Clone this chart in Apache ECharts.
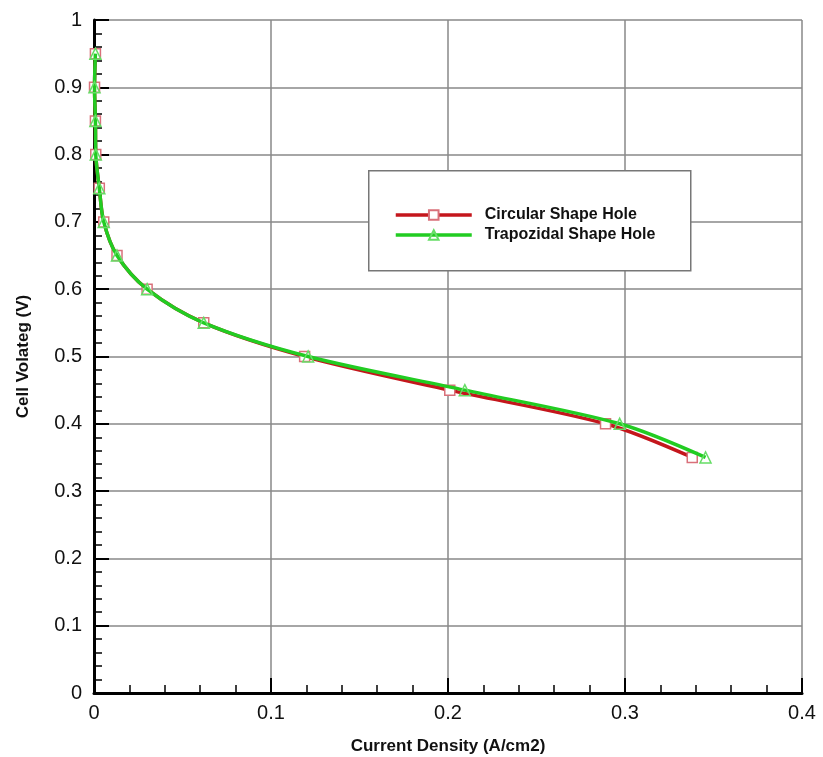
<!DOCTYPE html>
<html>
<head>
<meta charset="utf-8">
<script src="https://cdn.jsdelivr.net/npm/echarts@6/dist/echarts.min.js"></script>
<style>html,body{margin:0;padding:0;background:#fff;}#c{width:823px;height:757px;}</style>
</head>
<body>
<div id="c"></div>
<script>
const voltage = [0.95, 0.9, 0.85, 0.8, 0.75, 0.7, 0.65, 0.6, 0.55, 0.5, 0.45, 0.4, 0.35];
const circularCurrent = [0.0008, 0.0003, 0.0008, 0.0010, 0.0030, 0.0055, 0.013, 0.030, 0.062, 0.119, 0.201, 0.289, 0.338];
const trapCurrent = [0.0008, 0.0003, 0.0008, 0.0010, 0.0030, 0.0055, 0.013, 0.030, 0.062, 0.121, 0.2095, 0.297, 0.3455];
const seriesNames = ['Circular Shape Hole', 'Trapozidal Shape Hole'];

const circData = circularCurrent.map((x, i) => [x, voltage[i]]);
const trapData = trapCurrent.map((x, i) => [x, voltage[i]]);

const chart = echarts.init(document.getElementById('c'), null, {renderer: 'canvas'});
const font = '"Liberation Sans", Arial, sans-serif';
chart.setOption({
  animation: false,
  backgroundColor: '#fff',
  grid: {left: 94, top: 20, right: 21, bottom: 64, containLabel: false, outerBoundsMode: 'none'},
  graphic: [{
    type: 'rect', left: 368, top: 170, z: 10,
    shape: {width: 322, height: 100},
    style: {fill: '#fff', stroke: '#777', lineWidth: 1.5}
  }],
  legend: {
    orient: 'vertical',
    left: 394, top: 206,
    padding: 0,
    itemWidth: 76, itemHeight: 12, itemGap: 2,
    z: 20,
    lineStyle: {width: 3.5},
    textStyle: {fontFamily: font, fontWeight: 'bold', fontSize: 16, lineHeight: 18, color: '#111', padding: [0, 0, 0, 8]},
    data: seriesNames
  },
  xAxis: {
    type: 'value', min: 0, max: 0.4, interval: 0.1,
    name: 'Current Density (A/cm2)', nameLocation: 'middle', nameGap: 45,
    nameTextStyle: {fontFamily: font, fontWeight: 'bold', fontSize: 17, color: '#111'},
    axisLine: {show: true, onZero: false, lineStyle: {color: '#000', width: 3}},
    axisTick: {show: true, inside: true, length: 15, lineStyle: {color: '#000', width: 2}},
    minorTick: {show: true, splitNumber: 5, length: 8, lineStyle: {color: '#000', width: 1.5}},
    axisLabel: {fontFamily: font, fontSize: 20, color: '#111', margin: 10,
      formatter: v => String(parseFloat(v.toFixed(2)))},
    splitLine: {show: true, lineStyle: {color: '#888', width: 1.5}}
  },
  yAxis: {
    type: 'value', min: 0, max: 1, interval: 0.1,
    name: 'Cell Volateg (V)', nameLocation: 'middle', nameGap: 62,
    nameTextStyle: {fontFamily: font, fontWeight: 'bold', fontSize: 17, color: '#111'},
    axisLine: {show: true, onZero: false, lineStyle: {color: '#000', width: 3}},
    axisTick: {show: true, inside: true, length: 15, lineStyle: {color: '#000', width: 2}},
    minorTick: {show: true, splitNumber: 5, length: 8, lineStyle: {color: '#000', width: 1.5}},
    axisLabel: {fontFamily: font, fontSize: 20, color: '#111', margin: 12,
      formatter: v => String(parseFloat(v.toFixed(2)))},
    splitLine: {show: true, lineStyle: {color: '#888', width: 1.5}}
  },
  series: [
    {
      name: seriesNames[0], type: 'line', data: circData, smooth: 0.3,
      symbol: 'rect', symbolSize: 10,
      lineStyle: {color: '#c4161c', width: 3.5},
      itemStyle: {color: '#fff', borderColor: '#d9707a', borderWidth: 1.5},
      z: 3
    },
    {
      name: seriesNames[1], type: 'line', data: trapData, smooth: 0.3,
      symbol: 'triangle', symbolSize: 11,
      lineStyle: {color: '#22cc22', width: 3.5},
      itemStyle: {color: 'rgba(255,255,255,0)', borderColor: '#66dd66', borderWidth: 1.5},
      z: 4
    }
  ]
});
</script>
</body>
</html>
